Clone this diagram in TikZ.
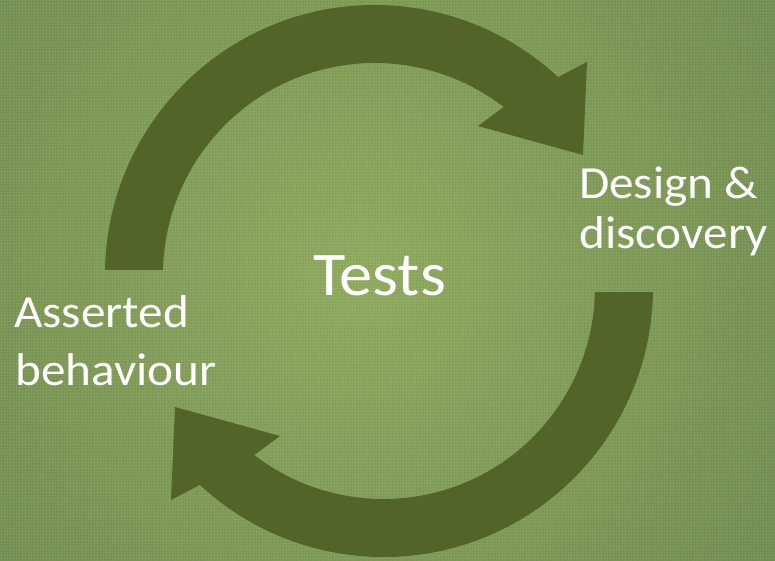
\documentclass[tikz,border=0pt]{standalone}
\usepackage{fontspec}
\setmainfont{Carlito}[FakeStretch=1.07]
\usetikzlibrary{patterns}
\definecolor{arrowgreen}{RGB}{82,100,40}
\definecolor{bgin}{RGB}{150,176,100}
\definecolor{bgout}{RGB}{84,114,68}
\definecolor{texlight}{RGB}{195,215,150}
\definecolor{texdark}{RGB}{70,95,55}
\tikzset{
  cyclearrow/.style={fill=arrowgreen},
  label/.style={text=white, inner sep=0pt, anchor=base west, font=\fontsize{46}{50}\selectfont},
  bigtitle/.style={text=white, inner sep=0pt, anchor=base west, font=\fontsize{62}{66}\selectfont}
}
\begin{document}
\begin{tikzpicture}[x=1pt,y=1pt]
\useasboundingbox (0,0) rectangle (775,560);
% background
\begin{scope}
\clip (0,0) rectangle (775,560);
\shade[inner color=bgin, outer color=bgout] (360,285) circle (1000);
\fill[pattern=crosshatch dots, pattern color=texlight, opacity=0.4] (0,0) rectangle (775,560);
\fill[pattern=crosshatch, pattern color=texdark, opacity=0.15] (0,0) rectangle (775,560);
\end{scope}
% top arrow
\fill[cyclearrow, shift={(374.6,285.4)}]
  (179:269.6) arc[start angle=179, end angle=47.1, radius=269.6]
  -- (212.4,212.6) -- (208.4,119.6) -- (103.4,148.6)
  -- (52.4:211.6) arc[start angle=52.4, end angle=178.75, radius=211.6] -- cycle;
% bottom arrow
\fill[cyclearrow, shift={(383.4,272.6)}, rotate=180]
  (179:269.6) arc[start angle=179, end angle=47.1, radius=269.6]
  -- (212.4,212.6) -- (208.4,119.6) -- (103.4,148.6)
  -- (52.4:211.6) arc[start angle=52.4, end angle=178.75, radius=211.6] -- cycle;
% texts
\node[bigtitle] (tests) at (313,265) {Tests};
\node[label] (design) at (579,361) {Design \&};
\node[label] (discovery) at (579,312) {discovery};
\node[label] (asserted) at (14,233) {Asserted};
\node[label] (behaviour) at (15,175) {behaviour};
\end{tikzpicture}
\end{document}
